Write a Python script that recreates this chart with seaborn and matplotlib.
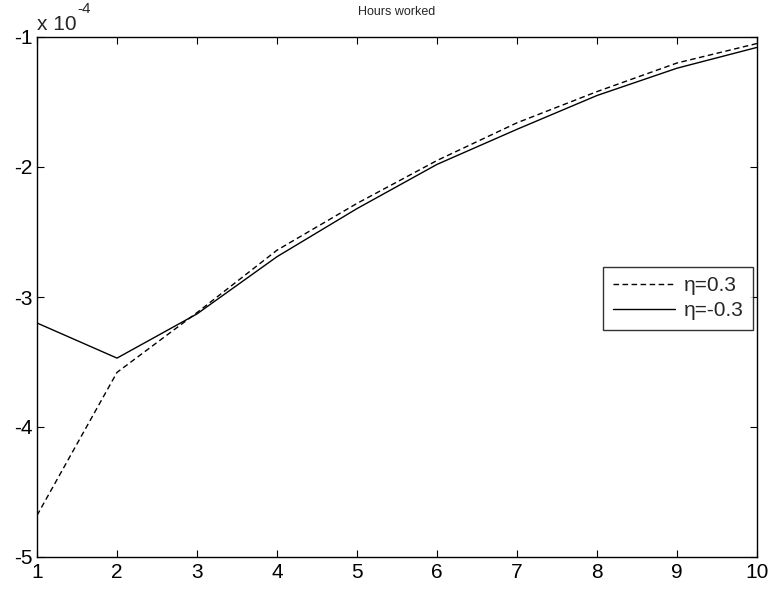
import numpy as np
import pandas as pd
import matplotlib
matplotlib.use("Agg")
import matplotlib.pyplot as plt
import matplotlib.ticker as mticker
import seaborn as sns

# -------------------------
# Data (units of 1e-4)
# -------------------------
periods = [1, 2, 3, 4, 5, 6, 7, 8, 9, 10]
hours_pos = [-4.68, -3.58, -3.12, -2.64, -2.28, -1.95, -1.66, -1.42, -1.20, -1.05]
hours_neg = [-3.20, -3.47, -3.13, -2.69, -2.32, -1.98, -1.71, -1.45, -1.24, -1.08]
labels = ["η=0.3", "η=-0.3"]
scale = 1e-4

df = pd.DataFrame({
    "period": periods * 2,
    "value": [v * scale for v in hours_pos + hours_neg],
    "case": [labels[0]] * len(periods) + [labels[1]] * len(periods),
})

sns.set_theme(style="ticks")
plt.rcParams["font.family"] = ["Liberation Sans", "DejaVu Sans"]

fig = plt.figure(figsize=(7.71, 5.89), dpi=100)
ax = fig.add_axes([37 / 771, 32 / 589, 720 / 771, 520 / 589])

sns.lineplot(data=df, x="period", y="value", style="case",
             dashes={labels[0]: (4, 2.5), labels[1]: ""},
             color="black", linewidth=1.0, ax=ax, legend=True)

ax.set_xlim(1, 10)
ax.set_ylim(-5 * scale, -1 * scale)
ax.set_xticks(periods)
ax.set_yticks([v * scale for v in [-5, -4, -3, -2, -1]])
ax.yaxis.set_major_formatter(mticker.FuncFormatter(lambda v, p: f"{v / scale:.0f}"))
ax.set_xlabel("")
ax.set_ylabel("")

ax.tick_params(direction="in", length=5, width=0.8, labelsize=15,
               top=True, right=True, colors="black")
ax.tick_params(axis="y", pad=3)
ax.tick_params(axis="x", pad=4)
for s in ax.spines.values():
    s.set_linewidth(1.0)
    s.set_color("black")

ax.set_title("Hours worked", fontsize=9, pad=16)
ax.text(0.0, 1.005, "x 10", transform=ax.transAxes, fontsize=15,
        ha="left", va="bottom")
ax.text(0.056, 1.04, "-4", transform=ax.transAxes, fontsize=11,
        ha="left", va="bottom")

leg = ax.legend(loc="upper right", bbox_to_anchor=(0.994, 0.558),
                fontsize=15, frameon=True, fancybox=False, handlelength=3.0,
                borderpad=0.45, labelspacing=0.3, handletextpad=0.4,
                borderaxespad=0)
leg.get_frame().set_edgecolor("black")
leg.get_frame().set_linewidth(1.0)

fig.savefig("out.png", dpi=100)
